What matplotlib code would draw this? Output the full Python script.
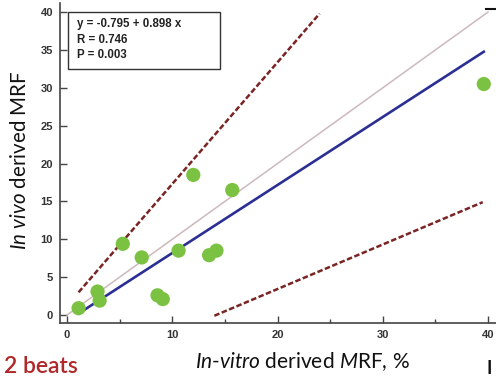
import matplotlib
matplotlib.use("Agg")
import matplotlib.pyplot as plt
from matplotlib.patches import Rectangle
import numpy as np

plt.rcParams['mathtext.fontset'] = 'custom'
plt.rcParams['mathtext.it'] = 'Lato:italic'
plt.rcParams['mathtext.rm'] = 'Lato'

# data
in_vitro = [1.1, 2.9, 3.1, 5.3, 7.1, 8.6, 9.1, 10.6, 13.5, 14.2, 12.0, 15.7, 39.6]
in_vivo = [0.9, 3.1, 1.9, 9.4, 7.6, 2.6, 2.1, 8.5, 7.9, 8.5, 18.5, 16.5, 30.5]
intercept, slope = -0.795, 0.898
fit_range = [1.1, 39.6]
identity = [0, 40]
upper_x = [1.1, 24.0]
upper_y = [3.0, 39.8]
lower_x = [14.0, 39.5]
lower_y = [-0.1, 14.9]
xticks = [0, 10, 20, 30, 40]
xminor = [5, 15, 25, 35]
yticks = [0, 5, 10, 15, 20, 25, 30, 35, 40]
stats_lines = ["y = -0.795 + 0.898 x", "R = 0.746", "P = 0.003"]

fig = plt.figure(figsize=(4.96, 3.77), dpi=100)
W, H = 496, 377
ax = fig.add_axes([60 / W, 1 - 323 / H, 436 / W, 320 / H])

ax.set_xlim(-0.665, 40.76)
ax.set_ylim(-1.056, 41.2)

ax.plot(identity, identity, color='#cdb9bb', lw=1.1, zorder=2)
fx = np.array(fit_range)
ax.plot(fx, intercept + slope * fx, color='#2b2f93', lw=1.9, zorder=3)
ax.plot(upper_x, upper_y, color='#7a2424', lw=1.8, ls=(0, (2.2, 1.0)), zorder=2)
ax.plot(lower_x, lower_y, color='#7a2424', lw=1.8, ls=(0, (2.2, 1.0)), zorder=2)
ax.scatter(in_vitro, in_vivo, s=105, color='#7cc242', edgecolors='none', zorder=4)

for s in ['top', 'right']:
    ax.spines[s].set_visible(False)
for s in ['left', 'bottom']:
    ax.spines[s].set_color('#444444')
    ax.spines[s].set_linewidth(1.2)

ax.set_xticks(xticks)
ax.set_xticks(xminor, minor=True)
ax.set_yticks(yticks)
ax.tick_params(axis='both', which='major', direction='in', length=5, width=1.0,
               colors='#444444', labelsize=8, labelcolor='#333333')
ax.tick_params(axis='x', which='minor', direction='in', length=3, width=1.0, colors='#444444')
ax.tick_params(axis='y', pad=5)
ax.tick_params(axis='x', pad=5)
for lab in ax.get_xticklabels() + ax.get_yticklabels():
    lab.set_fontfamily('Liberation Sans')
    lab.set_fontweight('bold')

# stats box
ax.add_patch(Rectangle((0.1, 32.45), 14.4, 7.55, fill=False, edgecolor='#333333', lw=1.0, zorder=5))
for i, t in enumerate(stats_lines):
    ax.text(0.95, 38.4 - i * 2.05, t, fontsize=8.3, fontweight='bold', family='Liberation Sans',
            color='#222222', va='center', ha='left', zorder=6)

fig.text(302 / W, 1 - 362 / H, r'$\mathit{In}$-$\mathit{vitro}$ derived $\mathit{M}$RF, %',
         fontsize=15, family='Lato', ha='center', va='center', color='#111111')
fig.text(20 / W, 1 - 160 / H, r'$\mathit{In\ vivo}$ derived MRF', rotation=90,
         fontsize=14.8, family='Lato', ha='center', va='center', color='#111111')

fig.text(4 / W, 0.0, '2 beats', fontsize=16.5, family='Lato', fontweight='semibold',
         color='#b0282a', ha='left', va='bottom')
fig.text(487 / W, 0.0, 'I', fontsize=13, family='Lato', fontweight='bold',
         color='#111111', ha='left', va='bottom')
fig.add_artist(plt.Line2D([486 / W, 496 / W], [1 - 9 / H, 1 - 9 / H], color='#111111', lw=1.5))

fig.savefig('out.png', dpi=100)
